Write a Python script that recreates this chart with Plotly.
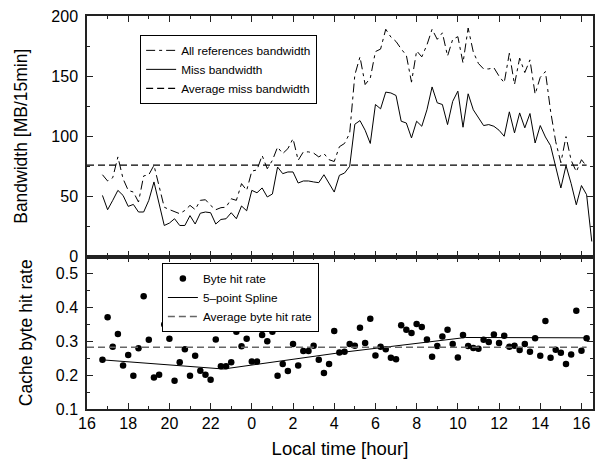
import plotly.graph_objects as go

# ---- data -------------------------------------------------------------
# sample times in hours after 16:00 (15-minute samples starting 16:45)
times = [0.75 + 0.25 * k for k in range(96)]

miss_bw = [50.8, 38.9, 46.7, 55, 50.8, 41.7, 43.3, 37, 37, 46.7,
           62, 44, 25.8, 27.8, 31.4, 25.8, 25.8, 34, 27, 36,
           37, 36.4, 27, 30.8, 31.4, 36.4, 31.4, 42, 38, 55,
           53, 57, 49.5, 52, 74.4, 68.9, 70.3, 70.3, 61.1, 62.8,
           62.8, 62, 61.4, 68, 60.6, 53.6, 67.5, 69.4, 75, 110,
           113, 105, 94, 126.4, 122.8, 136.7, 136, 133.9, 112.5, 111,
           98.6, 112.5, 108.3, 122, 141, 127.8, 126.4, 109.7, 129, 137.5,
           107.5, 135.3, 122, 115.3, 108.9, 109.7, 108.3, 105, 100, 120.3,
           102.8, 119.4, 107, 118.9, 94.4, 108.9, 99.4, 92.2, 75, 57,
           75.6, 60.6, 43, 59, 51.4, 12.5]

all_bw = [68, 62.8, 65.6, 82.8, 64.7, 55, 53.6, 45.3, 67, 68,
          75.8, 57.8, 41, 39, 37, 35.6, 38.3, 42.5, 39, 46.7,
          47.2, 42.5, 38.9, 40.6, 41, 48, 46.7, 60.6, 55, 71,
          72, 84, 73, 80, 91, 85.6, 89.7, 98, 80, 87,
          87, 86, 82.8, 85.6, 80.5, 79, 91.3, 94, 102.5, 151,
          166, 143, 148.3, 170.4, 172.5, 189, 182.5, 178.8, 172.6, 167.3,
          145, 171, 166, 176, 189, 180.6, 186, 166.7, 180.6, 182.8,
          161, 190, 170, 160.5, 156, 156, 157, 150, 144.5, 169,
          143, 165, 153, 163.5, 135, 149, 153.8, 121, 95.5, 78,
          99.7, 80, 70.5, 80.5, 75]

avg_miss_bw = 76
avg_span = [0, 24.25]

byte_hit = [0.245, 0.371, 0.284, 0.321, 0.228, 0.259, 0.198, 0.279, 0.433, 0.304,
            0.193, 0.201, 0.349, 0.307, 0.183, 0.238, 0.276, 0.198, 0.257, 0.213,
            0.201, 0.186, 0.305, 0.226, 0.226, 0.238, 0.328, 0.285, 0.307, 0.240,
            0.240, 0.318, 0.300, 0.328, 0.198, 0.233, 0.212, 0.292, 0.228, 0.271,
            0.271, 0.287, 0.245, 0.206, 0.233, 0.330, 0.267, 0.269, 0.292, 0.287,
            0.340, 0.295, 0.366, 0.258, 0.284, 0.276, 0.251, 0.247, 0.347, 0.334,
            0.324, 0.351, 0.342, 0.305, 0.254, 0.286, 0.314, 0.334, 0.292, 0.252,
            0.318, 0.286, 0.280, 0.278, 0.304, 0.298, 0.320, 0.295, 0.316, 0.284,
            0.287, 0.274, 0.292, 0.269, 0.309, 0.257, 0.360, 0.251, 0.275, 0.266,
            0.233, 0.261, 0.390, 0.272, 0.309]

spline_t = [0.75, 6.625, 12.5, 18.375, 24.25]
spline_v = [0.245, 0.218, 0.268, 0.311, 0.310]
avg_byte_hit = 0.282

x_tickvals = [0, 2, 4, 6, 8, 10, 12, 14, 16, 18, 20, 22, 24]
x_ticktext = ["16", "18", "20", "22", "0", "2", "4", "6", "8", "10", "12", "14", "16"]

# ---- figure -----------------------------------------------------------
FONT = "Liberation Sans, Arial, Helvetica, sans-serif"
fig = go.Figure()

fig.add_trace(go.Scatter(x=times[:len(all_bw)], y=all_bw, mode="lines",
                         name="All references bandwidth",
                         line=dict(color="black", width=1, dash="9px,4px,3px,4px"),
                         xaxis="x", yaxis="y", legend="legend"))
fig.add_trace(go.Scatter(x=times[:len(miss_bw)], y=miss_bw, mode="lines",
                         name="Miss bandwidth",
                         line=dict(color="black", width=1),
                         xaxis="x", yaxis="y", legend="legend"))
fig.add_trace(go.Scatter(x=avg_span, y=[avg_miss_bw, avg_miss_bw], mode="lines",
                         name="Average miss bandwidth",
                         line=dict(color="black", width=1.2, dash="7px,4px"),
                         xaxis="x", yaxis="y", legend="legend"))

fig.add_trace(go.Scatter(x=times[:len(byte_hit)], y=byte_hit, mode="markers",
                         name="Byte hit rate",
                         marker=dict(color="black", size=6.5),
                         xaxis="x2", yaxis="y2", legend="legend2"))
fig.add_trace(go.Scatter(x=spline_t, y=spline_v, mode="lines",
                         name="5\u2013point Spline",
                         line=dict(color="black", width=1),
                         xaxis="x2", yaxis="y2", legend="legend2"))
fig.add_trace(go.Scatter(x=avg_span, y=[avg_byte_hit, avg_byte_hit], mode="lines",
                         name="Average byte hit rate",
                         line=dict(color="#666666", width=1.6, dash="7px,4px"),
                         xaxis="x2", yaxis="y2", legend="legend2"))

split = 152.5 / 393.0
axcommon = dict(showline=True, linecolor="#222", linewidth=1.5, mirror="allticks",
                ticks="inside", ticklen=6, tickwidth=1.2, tickcolor="#222",
                showgrid=False, zeroline=False, automargin=False,
                tickfont=dict(family=FONT, size=16, color="black"))

fig.update_layout(
    width=597, height=465,
    margin=dict(l=87, r=4, t=16, b=56, autoexpand=False),
    paper_bgcolor="white", plot_bgcolor="white",
    font=dict(family=FONT, color="black"),
    xaxis=dict(axcommon, domain=[0, 1], anchor="y", range=[0, 24.56],
               tickmode="array", tickvals=x_tickvals, ticktext=x_ticktext,
               showticklabels=False,
               minor=dict(tickmode="linear", tick0=0, dtick=1, ticks="inside",
                          ticklen=3.5, tickwidth=1, tickcolor="#222")),
    yaxis=dict(axcommon, domain=[split, 1], anchor="x", range=[0, 200],
               tickmode="linear", tick0=0, dtick=50, ticklabelstandoff=4,
               minor=dict(tickmode="linear", tick0=0, dtick=25, ticks="inside",
                          ticklen=3.5, tickwidth=1, tickcolor="#222"),
               title=dict(text="Bandwidth [MB/15min]", standoff=19,
                          font=dict(family=FONT, size=17.5))),
    xaxis2=dict(axcommon, domain=[0, 1], anchor="y2", range=[0, 24.56],
                tickmode="array", tickvals=x_tickvals, ticktext=x_ticktext,
                ticklabelstandoff=-1,
                minor=dict(tickmode="linear", tick0=0, dtick=1, ticks="inside",
                           ticklen=3.5, tickwidth=1, tickcolor="#222"),
                title=dict(text="Local time [hour]", standoff=11,
                           font=dict(family=FONT, size=18.5))),
    yaxis2=dict(axcommon, domain=[0, split], anchor="x2", range=[0.1, 0.55],
                tickmode="array", tickvals=[0.1, 0.2, 0.3, 0.4, 0.5],
                ticktext=["0.1", "0.2", "0.3", "0.4", "0.5"], ticklabelstandoff=4,
                minor=dict(tickmode="linear", tick0=0.1, dtick=0.05, ticks="inside",
                           ticklen=3.5, tickwidth=1, tickcolor="#222"),
                title=dict(text="Cache byte hit rate", standoff=19,
                           font=dict(family=FONT, size=17.5))),
    legend=dict(x=0.105, y=0.952, xanchor="left", yanchor="top",
                bgcolor="white", bordercolor="black", borderwidth=1,
                font=dict(family=FONT, size=11.8), tracegroupgap=0, itemwidth=30),
    legend2=dict(x=0.148, y=0.3715, xanchor="left", yanchor="top",
                 bgcolor="white", bordercolor="black", borderwidth=1,
                 font=dict(family=FONT, size=11.8), tracegroupgap=0, itemwidth=30),
    showlegend=True,
)

fig.write_html("out.html", config={"displayModeBar": False},
               post_script="document.body.style.margin='0';document.body.style.padding='0';")
